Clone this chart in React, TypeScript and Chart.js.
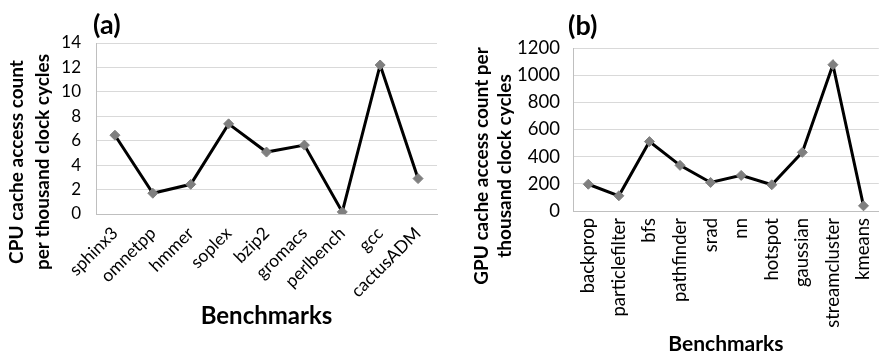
import React, { useEffect, useRef } from 'react';
import { Chart, registerables } from 'chart.js';

Chart.register(...registerables);

const cpuBenchmarks = ['sphinx3', 'omnetpp', 'hmmer', 'soplex', 'bzip2', 'gromacs', 'perlbench', 'gcc', 'cactusADM'];
const cpuValues = [6.45, 1.7, 2.43, 7.38, 5.07, 5.64, 0.17, 12.2, 2.9];
const cpuYTicks = { min: 0, max: 14, step: 2 };

const gpuBenchmarks = ['backprop', 'particlefilter', 'bfs', 'pathfinder', 'srad', 'nn', 'hotspot', 'gaussian', 'streamcluster', 'kmeans'];
const gpuValues = [197, 112, 511, 336, 210, 262, 193, 432, 1077, 38];
const gpuYTicks = { min: 0, max: 1200, step: 200 };

const FONT = 'Lato, "Liberation Sans", sans-serif';

type PanelCfg = {
  width: number;
  height: number;
  labels: string[];
  values: number[];
  yTicks: { min: number; max: number; step: number };
  panel: string;
  panelX: number;
  panelY: number;
  yLines: string[];
  yBaselines: number[];
  yCenter: number;
  titleSize: number;
  tickSize: number;
  xTickSize: number;
  xTitleSize: number;
  xTitlePadBottom: number;
  rotation: number;
  xTickPad: number;
  yTickPad: number;
  yWidth: number;
  xHeight: number;
  padTop: number;
  padRight: number;
};

function Panel({ cfg }: { cfg: PanelCfg }) {
  const ref = useRef<HTMLCanvasElement | null>(null);
  useEffect(() => {
    if (!ref.current) return;
    const titlePlugin = {
      id: 'customTitles',
      afterDraw(chart: any) {
        const ctx = chart.ctx as CanvasRenderingContext2D;
        ctx.save();
        ctx.fillStyle = '#000';
        ctx.font = `bold 27px ${FONT}`;
        ctx.textAlign = 'left';
        ctx.textBaseline = 'middle';
        ctx.fillText(cfg.panel, cfg.panelX, cfg.panelY);
        ctx.font = `bold ${cfg.titleSize}px ${FONT}`;
        ctx.textAlign = 'center';
        ctx.textBaseline = 'alphabetic';
        cfg.yLines.forEach((line, i) => {
          ctx.save();
          ctx.translate(cfg.yBaselines[i], cfg.yCenter);
          ctx.rotate(-Math.PI / 2);
          ctx.fillText(line, 0, 0);
          ctx.restore();
        });
        ctx.restore();
      },
    };
    const chart = new Chart(ref.current, {
      type: 'line',
      data: {
        labels: cfg.labels,
        datasets: [
          {
            data: cfg.values,
            borderColor: '#000000',
            borderWidth: 3,
            tension: 0,
            fill: false,
            pointStyle: 'rectRot',
            pointRadius: 5,
            pointBackgroundColor: '#7f7f7f',
            pointBorderColor: '#7f7f7f',
            pointBorderWidth: 1,
          },
        ],
      },
      options: {
        responsive: false,
        animation: false,
        layout: { padding: { top: cfg.padTop, right: cfg.padRight, left: 0, bottom: 0 } },
        plugins: {
          legend: { display: false },
          tooltip: { enabled: false },
          title: { display: false },
        },
        scales: {
          x: {
            type: 'category',
            offset: true,
            grid: { display: false, drawTicks: false },
            border: { display: true, color: '#bfbfbf', width: 1 },
            ticks: {
              autoSkip: false,
              minRotation: cfg.rotation,
              maxRotation: cfg.rotation,
              padding: cfg.xTickPad,
              color: '#000',
              font: { family: FONT, size: cfg.xTickSize },
            },
            title: {
              display: true,
              text: 'Benchmarks',
              color: '#000',
              font: { family: FONT, size: cfg.xTitleSize, weight: 'bold' },
              padding: { top: 0, bottom: cfg.xTitlePadBottom },
            },
            afterFit: (s: any) => {
              s.height = cfg.xHeight;
            },
          },
          y: {
            min: cfg.yTicks.min,
            max: cfg.yTicks.max,
            ticks: {
              stepSize: cfg.yTicks.step,
              padding: cfg.yTickPad,
              color: '#000',
              font: { family: FONT, size: cfg.tickSize },
              callback: (v: any) => String(v),
            },
            grid: { color: '#d9d9d9', drawTicks: false, lineWidth: 1 },
            border: { display: true, color: '#bfbfbf', width: 1 },
            afterFit: (s: any) => {
              s.width = cfg.yWidth;
            },
          },
        },
      } as any,
      plugins: [titlePlugin],
    });
    return () => chart.destroy();
  }, [cfg]);
  return (
    <canvas
      ref={ref}
      width={cfg.width}
      height={cfg.height}
      style={{ width: cfg.width, height: cfg.height, display: 'block' }}
    />
  );
}

const cpuCfg: PanelCfg = {
  width: 443,
  height: 357,
  labels: cpuBenchmarks,
  values: cpuValues,
  yTicks: cpuYTicks,
  panel: '(a)',
  panelX: 93,
  panelY: 25,
  yLines: ['CPU cache access count', 'per thousand clock cycles'],
  yBaselines: [23, 49],
  yCenter: 162,
  titleSize: 19,
  tickSize: 17,
  xTickSize: 17.5,
  xTitleSize: 24,
  xTitlePadBottom: 26,
  rotation: 45,
  xTickPad: 9,
  yTickPad: 15,
  yWidth: 96,
  xHeight: 143,
  padTop: 43,
  padRight: 2,
};

const gpuCfg: PanelCfg = {
  width: 450,
  height: 357,
  labels: gpuBenchmarks,
  values: gpuValues,
  yTicks: gpuYTicks,
  panel: '(b)',
  panelX: 125,
  panelY: 26,
  yLines: ['GPU cache access count per', 'thousand clock cycles'],
  yBaselines: [45, 68],
  yCenter: 166,
  titleSize: 19,
  tickSize: 18.5,
  xTickSize: 18.5,
  xTitleSize: 21,
  xTitlePadBottom: 0,
  rotation: 90,
  xTickPad: 7,
  yTickPad: 13,
  yWidth: 130,
  xHeight: 146,
  padTop: 48,
  padRight: 3,
};

export default function App() {
  return (
    <div
      style={{
        position: 'fixed',
        left: 0,
        top: 0,
        width: 886,
        height: 357,
        overflow: 'hidden',
        background: '#fff',
      }}
    >
      <div style={{ position: 'absolute', left: 0, top: 0 }}>
        <Panel cfg={cpuCfg} />
      </div>
      <div style={{ position: 'absolute', left: 443, top: 0 }}>
        <Panel cfg={gpuCfg} />
      </div>
    </div>
  );
}
